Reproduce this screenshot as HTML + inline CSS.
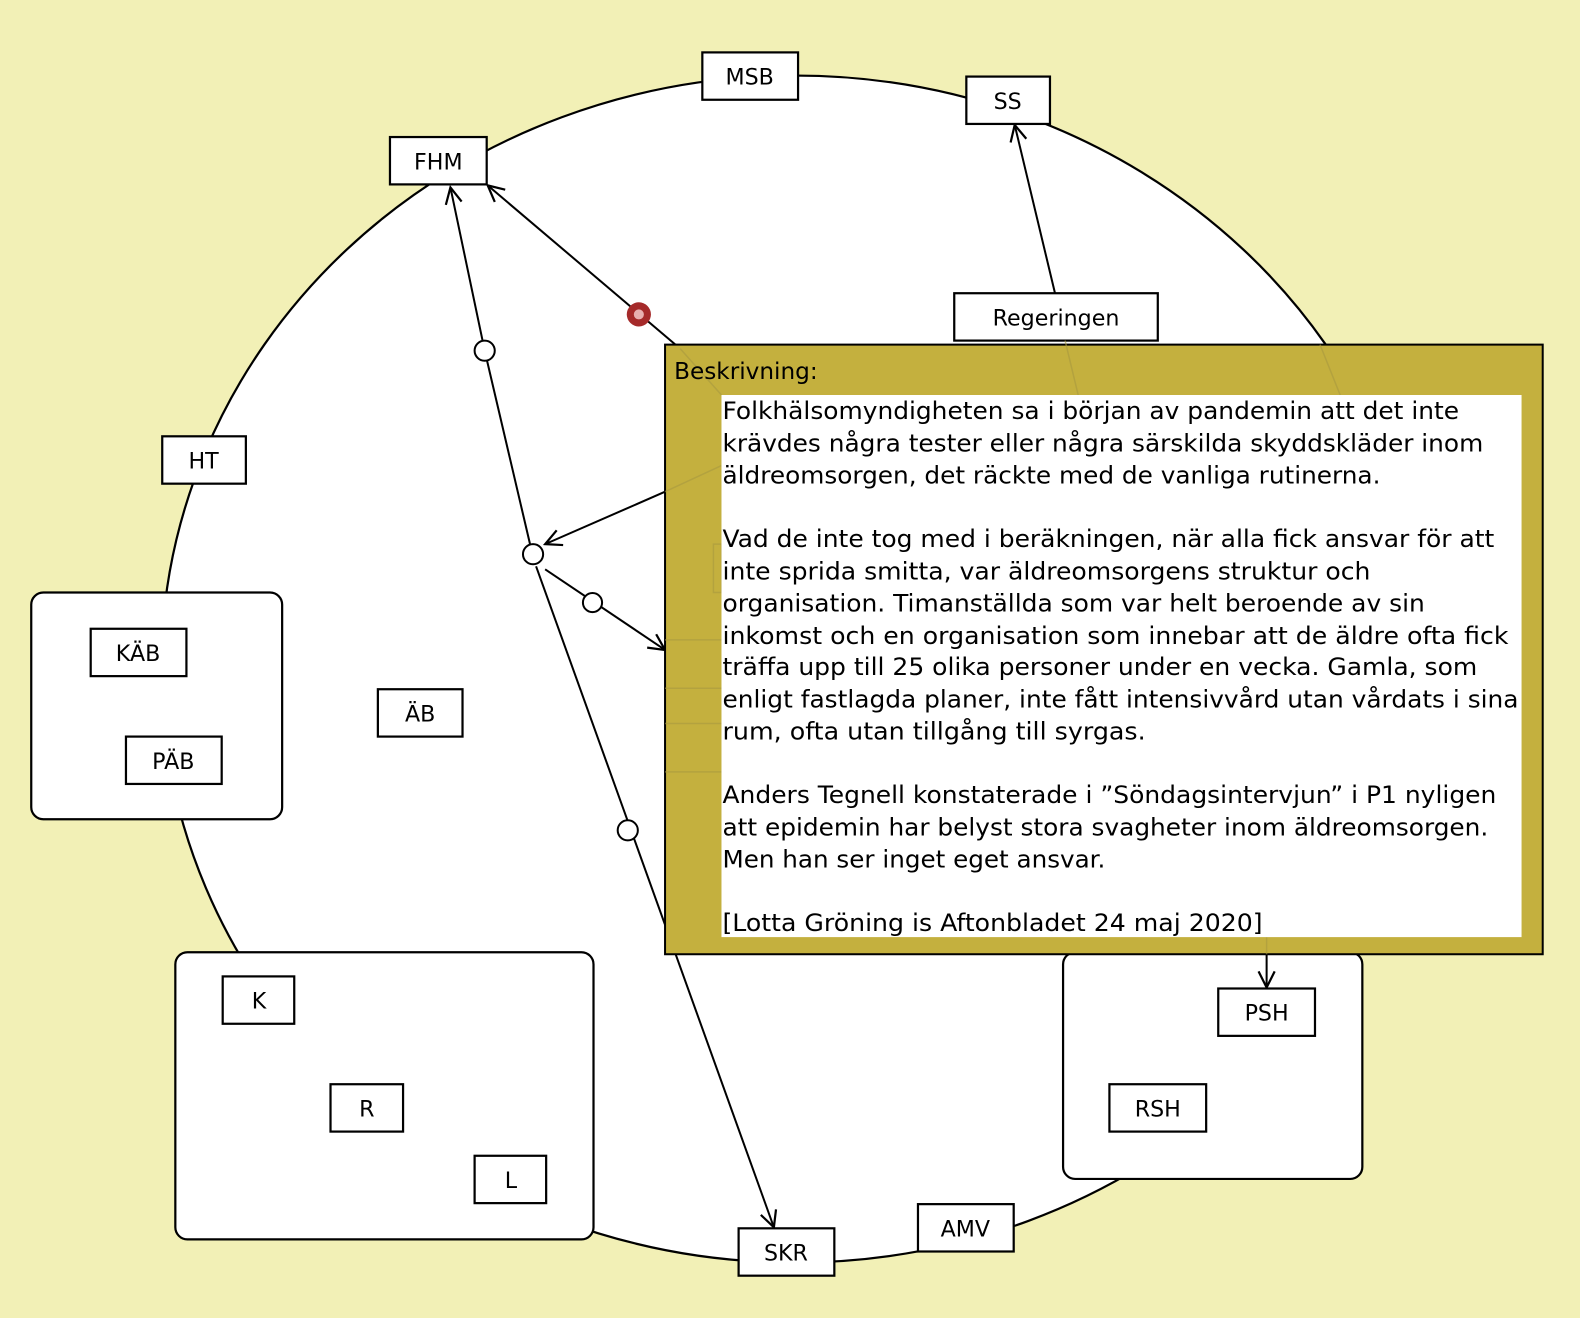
<!DOCTYPE html>
<html><head><meta charset="utf-8">
<style>
html,body{margin:0;padding:0;background:#f2f0b6;}
svg{display:block}
text{font-family:"DejaVu Sans","Liberation Sans",sans-serif;fill:#000}
</style></head>
<body>
<svg width="1580" height="1318" viewBox="0 0 1568 1308" xmlns="http://www.w3.org/2000/svg">
<defs>
<marker id="a" viewBox="0 0 20 20" refX="18" refY="10" markerWidth="20" markerHeight="20" markerUnits="userSpaceOnUse" orient="auto">
<path d="M2,2 L18,10 L2,18" fill="none" stroke="#000" stroke-width="2.2"/>
</marker>
</defs>
<rect width="1568" height="1308" fill="#f2f0b6"/>
<ellipse cx="789" cy="664" rx="629" ry="589" fill="#fff" stroke="#000" stroke-width="2.2"/>

<g stroke="#000" stroke-width="2" fill="none">
<line x1="481" y1="348" x2="447" y2="186" marker-end="url(#a)"/>
<line x1="481" y1="348" x2="526" y2="540"/>
<line x1="532" y1="562" x2="768" y2="1218" marker-end="url(#a)"/>
<line x1="541" y1="565" x2="660" y2="645" marker-end="url(#a)"/>
<line x1="675" y1="346" x2="484" y2="184" marker-end="url(#a)"/>
<line x1="660" y1="488" x2="541" y2="540" marker-end="url(#a)"/>
<line x1="1047" y1="291" x2="1007" y2="124" marker-end="url(#a)"/>
</g>
<g stroke="#000" stroke-width="2" fill="#fff">
<circle cx="481" cy="348" r="10"/>
<circle cx="529" cy="550" r="10"/>
<circle cx="588" cy="598" r="9.5"/>
<circle cx="623" cy="824" r="10"/>
</g>
<circle cx="634" cy="312" r="12" fill="#a52a2a"/>
<circle cx="634" cy="312" r="5" fill="#e8b0b0"/>

<g stroke="#000" stroke-width="2.2" fill="#fff">
<rect x="31" y="588" width="249" height="225" rx="12"/>
<rect x="174" y="945" width="415" height="285" rx="12"/>
<rect x="1055" y="945" width="297" height="225" rx="12"/>
<rect x="697" y="52" width="95" height="47"/>
<rect x="959" y="76" width="83" height="47"/>
<rect x="387" y="136" width="96" height="47"/>
<rect x="947" y="291" width="202" height="47"/>
<rect x="161" y="433" width="83" height="47"/>
<rect x="90" y="624" width="95" height="47"/>
<rect x="125" y="731" width="95" height="47"/>
<rect x="375" y="684" width="84" height="47"/>
<rect x="221" y="969" width="71" height="47"/>
<rect x="328" y="1076" width="72" height="47"/>
<rect x="471" y="1147" width="71" height="47"/>
<rect x="733" y="1219" width="95" height="47"/>
<rect x="911" y="1195" width="95" height="47"/>
<rect x="1209" y="981" width="96" height="47"/>
<rect x="1101" y="1076" width="96" height="47"/>
</g>
<line x1="1257" y1="940" x2="1257" y2="980" stroke="#000" stroke-width="2" marker-end="url(#a)"/>
<g font-size="22" text-anchor="middle">
<text x="744" y="84">MSB</text>
<text x="1000" y="108">SS</text>
<text x="435" y="168">FHM</text>
<text x="1048" y="323">Regeringen</text>
<text x="202" y="465">HT</text>
<text x="137" y="656">KÄB</text>
<text x="172" y="763">PÄB</text>
<text x="417" y="716">ÄB</text>
<text x="257" y="1001">K</text>
<text x="364" y="1108">R</text>
<text x="507" y="1179">L</text>
<text x="780" y="1251">SKR</text>
<text x="958" y="1227">AMV</text>
<text x="1257" y="1013">PSH</text>
<text x="1149" y="1108">RSH</text>
</g>

<rect x="660" y="342" width="871" height="605" fill="#c4b03e" stroke="#000" stroke-width="2"/>
<g stroke="#a89a40" stroke-width="1.5" fill="none" opacity="0.6">
<line x1="675" y1="346" x2="716" y2="392"/>
<line x1="1057" y1="338" x2="1070" y2="392"/>
<line x1="1310" y1="342" x2="1330" y2="392"/>
<line x1="660" y1="488" x2="716" y2="462"/>
<rect x="708" y="540" width="8" height="48"/>
<line x1="660" y1="635" x2="716" y2="635"/>
<line x1="660" y1="683" x2="716" y2="683"/>
<line x1="660" y1="718" x2="716" y2="718"/>
<line x1="660" y1="766" x2="716" y2="766"/>
<line x1="1257" y1="930" x2="1257" y2="947"/>
</g>
<text x="669" y="376" font-size="23">Beskrivning:</text>
<rect x="716" y="392" width="794" height="538" fill="#fff"/>
<g font-size="24">
<text x="717" y="416" textLength="731" lengthAdjust="spacingAndGlyphs">Folkhälsomyndigheten sa i början av pandemin att det inte</text>
<text x="717" y="448" textLength="755" lengthAdjust="spacingAndGlyphs">krävdes några tester eller några särskilda skyddskläder inom</text>
<text x="717" y="480" textLength="653" lengthAdjust="spacingAndGlyphs">äldreomsorgen, det räckte med de vanliga rutinerna.</text>
<text x="717" y="543" textLength="766" lengthAdjust="spacingAndGlyphs">Vad de inte tog med i beräkningen, när alla fick ansvar för att</text>
<text x="717" y="575" textLength="643" lengthAdjust="spacingAndGlyphs">inte sprida smitta, var äldreomsorgens struktur och</text>
<text x="717" y="607" textLength="697" lengthAdjust="spacingAndGlyphs">organisation. Timanställda som var helt beroende av sin</text>
<text x="717" y="639" textLength="780" lengthAdjust="spacingAndGlyphs">inkomst och en organisation som innebar att de äldre ofta fick</text>
<text x="717" y="670" textLength="749" lengthAdjust="spacingAndGlyphs">träffa upp till 25 olika personer under en vecka. Gamla, som</text>
<text x="717" y="702" textLength="790" lengthAdjust="spacingAndGlyphs">enligt fastlagda planer, inte fått intensivvård utan vårdats i sina</text>
<text x="717" y="734" textLength="420" lengthAdjust="spacingAndGlyphs">rum, ofta utan tillgång till syrgas.</text>
<text x="717" y="797" textLength="768" lengthAdjust="spacingAndGlyphs">Anders Tegnell konstaterade i ”Söndagsintervjun” i P1 nyligen</text>
<text x="717" y="829" textLength="760" lengthAdjust="spacingAndGlyphs">att epidemin har belyst stora svagheter inom äldreomsorgen.</text>
<text x="717" y="861" textLength="380" lengthAdjust="spacingAndGlyphs">Men han ser inget eget ansvar.</text>
<text x="717" y="924" textLength="536" lengthAdjust="spacingAndGlyphs">[Lotta Gröning is Aftonbladet 24 maj 2020]</text>
</g>
</svg>
</body></html>
